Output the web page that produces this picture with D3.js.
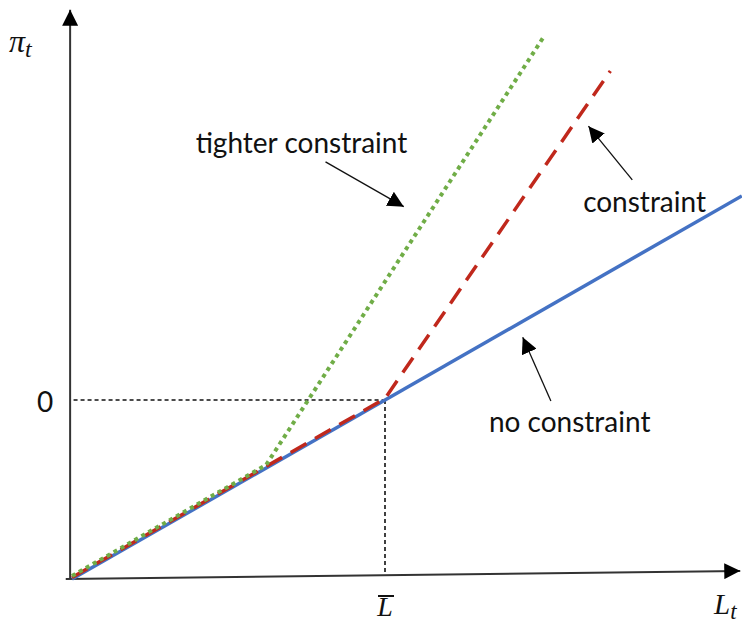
<!DOCTYPE html>
<meta charset="utf-8" />
<title>Inflation vs labour - constraint</title>
<style>
  body { margin: 0; background: #fff; }
  svg { display: block; }
  .label { font-family: Lato, "Open Sans", sans-serif; font-size: 28px; fill: #111; }
  .math { font-family: "Liberation Serif", "DejaVu Serif", serif; font-style: italic; fill: #111; }
  .zero { font-family: Lato, sans-serif; font-size: 28px; fill: #111; }
  .axis { stroke: #333; stroke-width: 2; fill: none; }
  .guide { stroke: #111; stroke-width: 1.6; stroke-dasharray: 4 3; fill: none; }
  .pointer { stroke: #111; stroke-width: 1.3; fill: none; }
</style>
<body>
<svg width="742" height="626"></svg>
<script src="https://d3js.org/d3.v7.min.js"></script>
<script>
const width = 742, height = 626;
const svg = d3.select("svg");

// data units: L on x, pi on y (pi = 0 at Lbar = 1)
const noConstraint = [[0, -1], [2.14, 1.14]];
const constraint = [[0, -1], [1, 0], [1.72, 1.83]];
const tighter = [[0, -1], [0.62, -0.38], [1.51, 2.02]];
const lbar = [1, 0];

// axes (the horizontal one is slightly tilted in the original)
const xAxisLine = [[-0.02, -1], [2.135, -0.955]];
const yAxisLine = [[-0.006, -1], [-0.006, 2.18]];

const notes = [
  { text: "tighter constraint", at: [0.395, 1.38], from: [0.81, 1.33], to: [1.06, 1.08] },
  { text: "constraint", at: [1.633, 1.05], from: [1.79, 1.23], to: [1.65, 1.53] },
  { text: "no constraint", at: [1.332, -0.18], from: [1.53, -0.005], to: [1.44, 0.35] }
];

const x = d3.scaleLinear().domain([0, 1]).range([72, 385]);
const y = d3.scaleLinear().domain([-1, 0]).range([579, 400]);

const line = d3.line().x(d => x(d[0])).y(d => y(d[1]));

const defs = svg.append("defs");
defs.append("marker")
  .attr("id", "head")
  .attr("viewBox", "0 0 10 10")
  .attr("refX", 10).attr("refY", 5)
  .attr("markerWidth", 16).attr("markerHeight", 16)
  .attr("markerUnits", "userSpaceOnUse")
  .attr("orient", "auto")
  .append("path").attr("d", "M0,0L10,5L0,10Z").attr("fill", "#000");

// axes
svg.append("path").attr("class", "axis").attr("d", line(xAxisLine)).attr("marker-end", "url(#head)");
svg.append("path").attr("class", "axis").attr("d", line(yAxisLine)).attr("marker-end", "url(#head)");

// guides to Lbar
svg.append("path").attr("class", "guide")
  .attr("d", line([[0.005, lbar[1]], lbar]));
svg.append("path").attr("class", "guide")
  .attr("d", line([lbar, [lbar[0], -0.978]]));

// curves
svg.append("path").attr("d", line(noConstraint))
  .attr("fill", "none").attr("stroke", "#4472c4").attr("stroke-width", 3.5);
svg.append("path").attr("d", line(constraint))
  .attr("fill", "none").attr("stroke", "#c0281c").attr("stroke-width", 3.5)
  .attr("stroke-dasharray", "18 10").attr("transform", "translate(0,-1.5)");
svg.append("path").attr("d", line(tighter))
  .attr("fill", "none").attr("stroke", "#70ad47").attr("stroke-width", 4)
  .attr("stroke-dasharray", "4 4").attr("transform", "translate(0,-3)");

// annotations
notes.forEach(n => {
  svg.append("text").attr("class", "label")
    .attr("x", x(n.at[0])).attr("y", y(n.at[1]))
    .text(n.text);
  svg.append("path").attr("class", "pointer")
    .attr("d", line([n.from, n.to]))
    .attr("marker-end", "url(#head)");
});

// math labels
const pi = svg.append("text").attr("class", "math").attr("x", 9).attr("y", 52).attr("font-size", 32);
pi.append("tspan").text("π");
pi.append("tspan").attr("font-size", 24).attr("dy", 5).text("t");

svg.append("text").attr("class", "zero")
  .attr("x", 45).attr("y", y(0) + 12)
  .attr("text-anchor", "middle").text("0");

svg.append("text").attr("class", "math")
  .attr("x", x(lbar[0])).attr("y", 616).attr("font-size", 28)
  .attr("text-anchor", "middle").text("L");
svg.append("line").attr("stroke", "#111").attr("stroke-width", 2)
  .attr("x1", x(lbar[0]) - 7).attr("x2", x(lbar[0]) + 9)
  .attr("y1", 596).attr("y2", 596);

const lt = svg.append("text").attr("class", "math").attr("x", 714).attr("y", 614).attr("font-size", 29);
lt.append("tspan").text("L");
lt.append("tspan").attr("font-size", 23).attr("dy", 5).text("t");
</script>
</body>
